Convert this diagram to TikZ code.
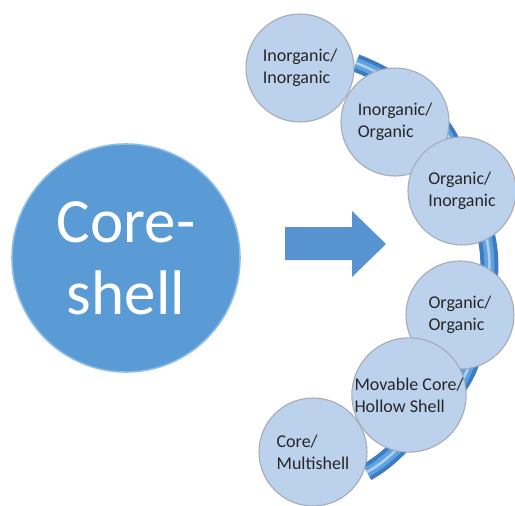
\documentclass[tikz,border=0pt]{standalone}
\usepackage{fontspec}
\setmainfont{Carlito}
\definecolor{bigblue}{RGB}{91,155,213}
\definecolor{bigrim}{RGB}{140,188,232}
\definecolor{arrowblue}{RGB}{86,147,208}
\definecolor{smallfill}{RGB}{188,210,236}
\definecolor{smallrim}{RGB}{165,172,184}
\definecolor{banddark}{RGB}{60,124,194}
\definecolor{bandmid}{RGB}{96,162,224}
\definecolor{bandlight}{RGB}{172,210,240}
\tikzset{
  item/.style={circle, fill=smallfill, draw=smallrim, line width=1.1pt,
    minimum size=108pt, inner sep=0pt, align=left,
    font=\fontsize{18}{22}\selectfont, text=black!85},
  bigcirc/.style={circle, fill=bigblue, draw=bigrim, line width=1.6pt,
    minimum size=228pt, inner sep=0pt, align=center,
    font=\fontsize{63}{72}\selectfont, text=white},
  bandpath/.style={smooth, tension=0.55},
}
\begin{document}
\begin{tikzpicture}[x=1pt,y=-1pt]
\useasboundingbox (0,0) rectangle (515,506);
% curved band
\def\bandpts{(356,63) (396,84) (449,138) (489,255) (466,373) (396,450) (367,472)}
\draw[banddark, line width=18pt] plot[bandpath] coordinates {\bandpts};
\draw[bandmid, line width=10pt] plot[bandpath] coordinates {\bandpts};
\draw[bandlight, line width=2.5pt] plot[bandpath] coordinates {\bandpts};
% big circle
\node[bigcirc] (core) at (126,258) {Core-\\shell};
% arrow
\draw[fill=arrowblue, draw=none] (285,227) -- (352,227) -- (352,211) -- (386,244)
  -- (352,277) -- (352,260) -- (285,260) -- cycle;
% small circles
\node[item] (c1) at (300,68) {Inorganic/\\Inorganic};
\node[item] (c2) at (395,122) {Inorganic/\\Organic};
\node[item] (c3) at (462,191) {Organic/\\Inorganic};
\node[item] (c4) at (460,315) {Organic/\\Organic};
\node[item] (c6) at (313,452) {Core/\\Multishell};
\node[item] (c5) at (409,395) {Movable Core/\\Hollow Shell};
\end{tikzpicture}
\end{document}
